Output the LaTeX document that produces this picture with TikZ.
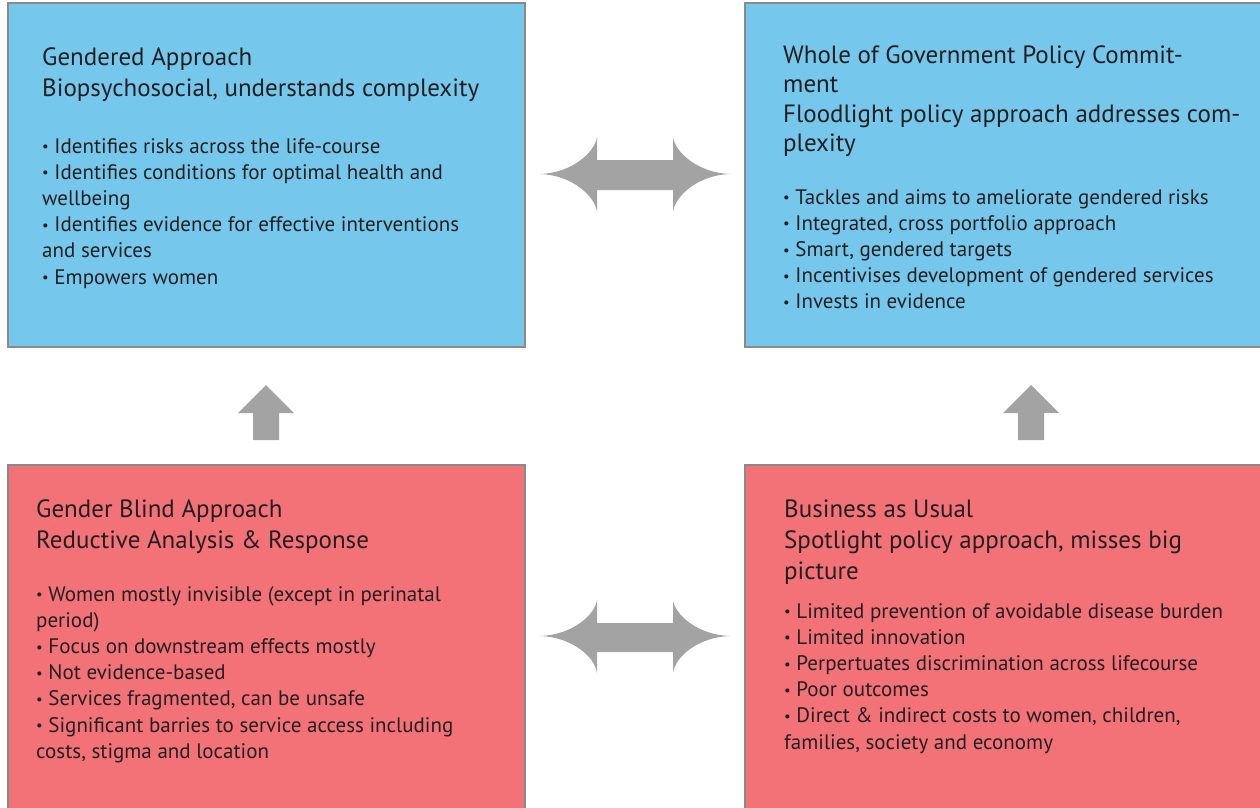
\documentclass[tikz,border=0pt]{standalone}
\usepackage{fontspec}
\setmainfont{PT Sans}
\definecolor{boxblue}{HTML}{76C7EC}
\definecolor{boxred}{HTML}{F27278}
\definecolor{boxline}{HTML}{8A8A8A}
\definecolor{arrowgray}{HTML}{A3A3A3}
\definecolor{txt}{HTML}{231F20}
\tikzset{
  panel/.style={line width=2pt, draw=boxline},
  titletext/.style={anchor=base west, inner sep=0pt, text=txt, font=\fontsize{25}{31}\selectfont},
  bullettext/.style={anchor=base west, inner sep=0pt, text=txt, font=\fontsize{21}{26.2}\selectfont},
  blockarrow/.style={fill=arrowgray, draw=none},
}
\newcommand{\bul}{\raisebox{0.12ex}{\scalebox{0.7}{•}}\ }
\newcommand{\textlines}[1]{\begin{tabular}[t]{@{}l@{}}#1\end{tabular}}
\begin{document}
\begin{tikzpicture}[x=1pt,y=-1pt]
\useasboundingbox (0,0) rectangle (1260,807);
% panels
\filldraw[panel, fill=boxblue] (8,3) rectangle (525,347);
\filldraw[panel, fill=boxblue] (745,3) rectangle (1264,347);
\filldraw[panel, fill=boxred] (8,465) rectangle (525,812);
\filldraw[panel, fill=boxred] (745,465) rectangle (1264,812);
% texts
\node[titletext] (tlt) at (42,65) {\textlines{Gendered Approach\\Biopsychosocial, understands complexity}};
\node[bullettext] (tlb) at (42,153) {\textlines{\bul Identifies risks across the life-course\\
\bul Identifies conditions for optimal health and\\wellbeing\\
\bul Identifies evidence for effective interventions\\and services\\
\bul Empowers women}};
\node[titletext, font=\fontsize{25}{29.5}\selectfont] (trt) at (783,63) {\textlines{Whole of Government Policy Commit-\\ment\\Floodlight policy approach addresses com-\\plexity}};
\node[bullettext] (trb) at (783,204) {\textlines{\bul Tackles and aims to ameliorate gendered risks\\
\bul Integrated, cross portfolio approach\\
\bul Smart, gendered targets\\
\bul Incentivises development of gendered services\\
\bul Invests in evidence}};
\node[titletext] (blt) at (36,517) {\textlines{Gender Blind Approach\\Reductive Analysis \& Response}};
\node[bullettext] (blb) at (36,601) {\textlines{\bul Women mostly invisible (except in perinatal\\period)\\
\bul Focus on downstream effects mostly\\
\bul Not evidence-based\\
\bul Services fragmented, can be unsafe\\
\bul Significant barries to service access including\\costs, stigma and location}};
\node[titletext] (brt) at (784,517) {\textlines{Business as Usual\\Spotlight policy approach, misses big\\picture}};
\node[bullettext] (brb) at (784,618) {\textlines{\bul Limited prevention of avoidable disease burden\\
\bul Limited innovation\\
\bul Perpertuates discrimination across lifecourse\\
\bul Poor outcomes\\
\bul Direct \& indirect costs to women, children,\\families, society and economy}};
% double arrows
\fill[blockarrow] (540,174) .. controls (572,173) and (595,152) .. (597,137) -- (597,160) -- (673,160) -- (673,137)
  .. controls (675,152) and (698,173) .. (730,174) .. controls (698,175) and (675,196) .. (673,212)
  -- (673,190) -- (597,190) -- (597,212) .. controls (595,196) and (572,175) .. cycle;
\fill[blockarrow] (540,636) .. controls (572,635) and (595,615) .. (597,600) -- (597,623) -- (673,623) -- (673,600)
  .. controls (675,615) and (698,635) .. (730,636) .. controls (698,637) and (675,657) .. (673,673)
  -- (673,652) -- (597,652) -- (597,673) .. controls (595,657) and (572,637) .. cycle;
% up arrows
\fill[blockarrow] (266,385) -- (294,413) -- (279,413) -- (279,440) -- (253,440) -- (253,413) -- (238,413) -- cycle;
\fill[blockarrow] (1031,385) -- (1059,413) -- (1044,413) -- (1044,440) -- (1018,440) -- (1018,413) -- (1003,413) -- cycle;
\end{tikzpicture}
\end{document}
